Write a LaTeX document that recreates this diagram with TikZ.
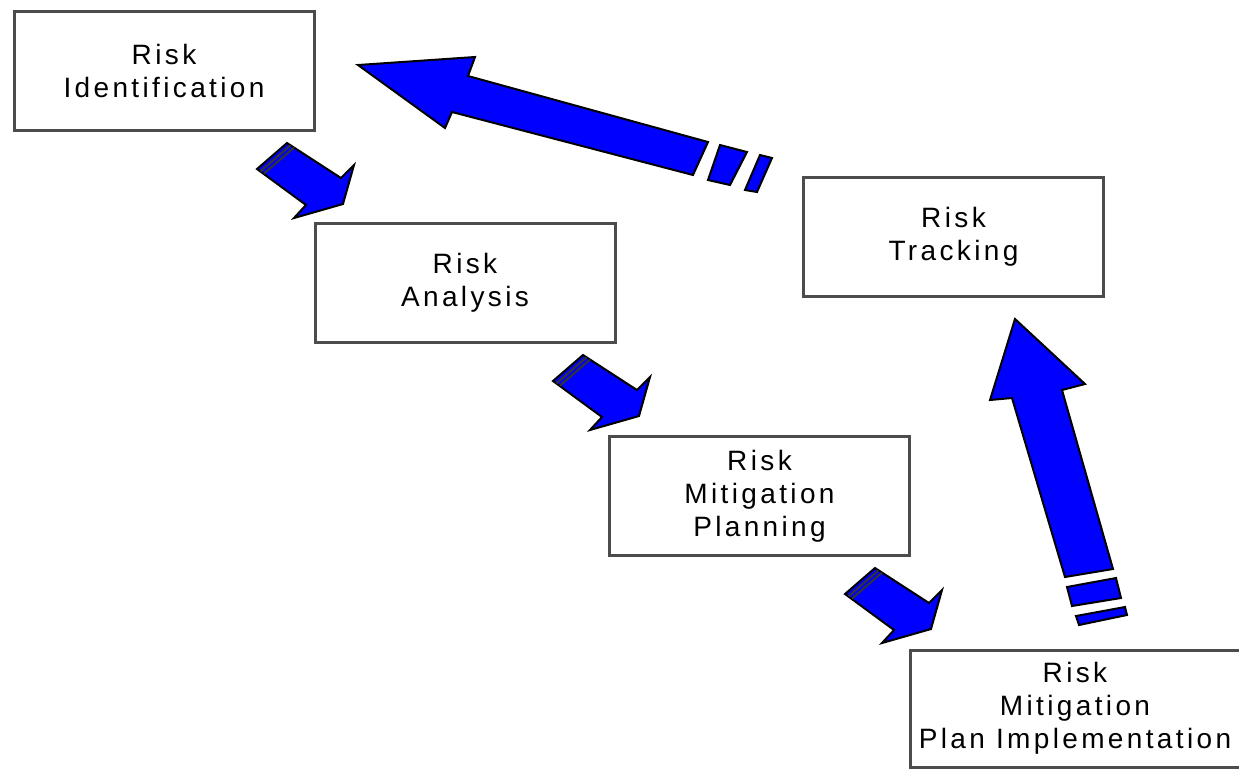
\documentclass[tikz,border=0pt]{standalone}
\usepackage{fontspec}
\setmainfont{Liberation Sans}[LetterSpace=12]
\usetikzlibrary{calc}

\begin{document}
\begin{tikzpicture}[x=0.5pt,y=-0.5pt]
    \tikzset{
        box/.style={draw=black!70, line width=1.5pt, fill=white, minimum width=150pt,
            minimum height=59.5pt, align=center, inner sep=0pt,
            font=\fontsize{14}{16.5}\selectfont},
        blockarrow/.style={draw=black, line width=1pt, fill=blue, line join=miter},
        tailline/.style={draw=black!80, line width=1pt}
    }
    \useasboundingbox (0,0) rectangle (1239,768);

    \node[box] (ident) at (164,70.5) {Risk\\Identification};
    \node[box] (analysis) at (465,282.5) {Risk\\Analysis};
    \node[box] (planning) at (759.5,496) {Risk\\Mitigation\\Planning};
    \node[box, minimum width=165pt, minimum height=58.5pt] (implement) at (1075,708.5) {Risk\\Mitigation\\Plan Implementation};
    \node[box] (tracking) at (953.5,236.5) {Risk\\Tracking};

    % small arrows between the steps
    \foreach \x/\y in {287/143, 583/355, 875/568} {
        \begin{scope}[shift={(\x,\y)}]
            \draw[blockarrow] (0,0) -- (54,35) -- (67,22) -- (56,61) -- (7,75) -- (19,62) -- (-30,26) -- cycle;
            \draw[tailline] (3.5,2.3) -- (-26.5,28.3);
            \draw[tailline] (7,4.6) -- (-23,30.6);
        \end{scope}
    }

    % tracking back to identification
    \draw[blockarrow] (358,65) -- (475,57) -- (468,76) -- (708,142) -- (693,175) -- (452,112) -- (445,128) -- cycle;
    \draw[blockarrow] (720,145) -- (747,152) -- (730,185) -- (708,180) -- cycle;
    \draw[blockarrow] (760,155) -- (772,158) -- (757,192) -- (745,190) -- cycle;

    % implementation up to tracking
    \draw[blockarrow] (1015,319) -- (1085,384) -- (1062,390) -- (1113,569) -- (1065,577) -- (1012,398) -- (990,400) -- cycle;
    \draw[blockarrow] (1067,587) -- (1116,578) -- (1121,598) -- (1072,606) -- cycle;
    \draw[blockarrow] (1076,616) -- (1125,607) -- (1127,615) -- (1079,625) -- cycle;
\end{tikzpicture}
\end{document}
